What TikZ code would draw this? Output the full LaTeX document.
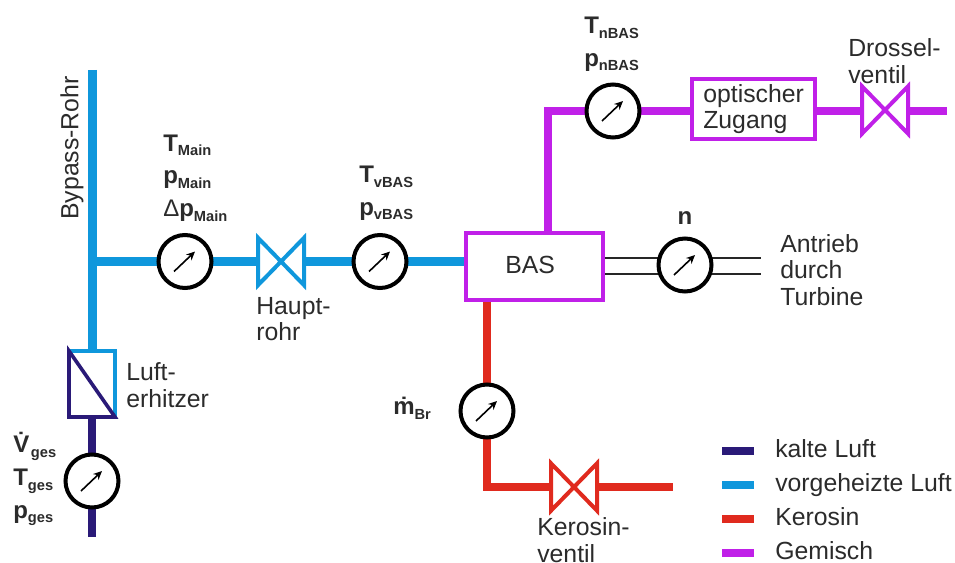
\documentclass[tikz,border=0pt]{standalone}
\usepackage{fontspec}
\setmainfont{Liberation Sans}
\usetikzlibrary{arrows.meta}
\usetikzlibrary{backgrounds}
\definecolor{kalt}{HTML}{2A1A78}
\definecolor{warm}{HTML}{0F97DC}
\definecolor{kero}{HTML}{E02A1E}
\definecolor{gemisch}{HTML}{C020E8}
\definecolor{schrift}{HTML}{2B2B2B}
\newcommand{\grlabel}[2]{\textbf{#1}\raisebox{-3.5pt}{\fontsize{11}{12}\selectfont\textbf{#2}}}
\tikzset{
	gauge/.style={circle,draw=black,line width=3pt,fill=white,minimum size=39.75pt,inner sep=0pt},
	needle/.style={line width=1.2pt,-{Stealth[length=6.5pt,width=6pt]}},
	pipe/.style={line width=6.2pt},
	valvebox/.style={inner sep=0pt,outer sep=0pt,minimum width=34.5pt,minimum height=35.5pt},
	valveline/.style={line width=3pt,line join=miter},
	boxline/.style={line width=3pt,draw=gemisch,fill=white,inner sep=0pt,outer sep=0pt},
	txt/.style={text=schrift,font=\fontsize{18.6}{20}\selectfont,inner sep=0pt,align=left},
	grtxt/.style={text=schrift,font=\fontsize{18}{24.5}\selectfont,inner sep=0pt,align=left}
}
\begin{document}
\begin{tikzpicture}[x=.75pt,y=-.75pt]
	\useasboundingbox (0,0) rectangle (955,563);
	\node[gauge] (gges) at (92,481) {};
	\node[gauge] (gmain) at (185,261.5) {};
	\node[gauge] (gvbas) at (380,261.5) {};
	\node[gauge] (gnbas) at (613,111) {};
	\node[gauge] (gn) at (685,265) {};
	\node[gauge] (gbr) at (487,411) {};
	\node[valvebox] (vhaupt) at (281,261.5) {};
	\node[valvebox] (vdrossel) at (885,110) {};
	\node[valvebox] (vkero) at (574,487) {};
	\node[inner sep=0pt,outer sep=0pt,minimum width=34.5pt,minimum height=49.5pt] (erhitzer) at (92,384) {};
	\node[boxline,minimum width=102.75pt,minimum height=50.25pt] (bas) at (534.5,266.5) {};
	\node[boxline,minimum width=92.25pt,minimum height=45pt] (optik) at (753.5,109) {};
	\coordinate (bypass) at (92.5,70);
	\coordinate (abzweig) at (92.5,261.5);
	\coordinate (gesende) at (92,537);
	\coordinate (knick) at (548,111);
	\coordinate (drosselende) at (947,111);
	\coordinate (kknick) at (487,487);
	\coordinate (keroende) at (673,487);
	\coordinate (welle) at (761,266);
	\begin{scope}[on background layer]
		\draw[pipe,warm] (bypass) -- (abzweig |- erhitzer.north);
		\draw[pipe,warm] (abzweig) -- (gmain.center);
		\draw[pipe,warm] (gmain.center) -- (vhaupt.west);
		\draw[pipe,warm] (vhaupt.east) -- (gvbas.center);
		\draw[pipe,warm] (gvbas.center) -- (bas.center |- gvbas);
		\draw[pipe,kalt] (erhitzer.south) -- (gges.center);
		\draw[pipe,kalt] (gges.center) -- (gesende);
		\draw[pipe,gemisch] (knick |- bas.center) -- (knick) -- (gnbas.center);
		\draw[pipe,gemisch] (gnbas.center) -- (optik.center |- gnbas);
		\draw[pipe,gemisch] (optik.center |- gnbas) -- (vdrossel.west |- gnbas);
		\draw[pipe,gemisch] (vdrossel.east |- gnbas) -- (drosselende);
		\draw[pipe,kero] (gbr |- bas.center) -- (gbr.center);
		\draw[pipe,kero] (gbr.center) -- (kknick) -- (vkero.west);
		\draw[pipe,kero] (vkero.east) -- (keroende);
		\draw[line width=1.5pt,black!85] ([yshift=6pt]bas.center |- welle) -- ([yshift=6pt]welle);
		\draw[line width=1.5pt,black!85] ([yshift=-6pt]bas.center |- welle) -- ([yshift=-6pt]welle);
	\end{scope}
	\foreach \g in {gges,gmain,gvbas,gnbas,gn,gbr}
		\draw[needle] ([shift={(-11,10)}]\g.center) -- ([shift={(10,-10)}]\g.center);
	\foreach \v/\c in {vhaupt/warm,vdrossel/gemisch,vkero/kero}
		\draw[valveline,\c] (\v.north west) -- (\v.south east) -- (\v.north east) -- (\v.south west) -- cycle;
	\draw[line width=2.7pt,warm] (erhitzer.north west) -- (erhitzer.north east) -- (erhitzer.south east);
	\draw[line width=2.7pt,kalt] (erhitzer.north west) -- (erhitzer.south east) -- (erhitzer.south west) -- cycle;
	\node[txt,anchor=center,rotate=90] (tbypass) at (72,148) {Bypass-Rohr};
	\node[txt,anchor=west] (tluft) at (126,385) {Luft-\\erhitzer};
	\node[txt,anchor=west] (thaupt) at (256,319) {Haupt-\\rohr};
	\node[txt,anchor=west] (tbas) at (505,265) {BAS};
	\node[txt,anchor=west] (tantrieb) at (780,270) {Antrieb\\durch\\Turbine};
	\node[txt,anchor=west] (toptik) at (703,109) {optischer\\Zugang};
	\node[txt,anchor=west] (tdrossel) at (848,61) {Drossel-\\ventil};
	\node[txt,anchor=west] (tkero) at (537,540) {Kerosin-\\ventil};
	\node[grtxt,anchor=west] (lmain) at (163,178) {\grlabel{T}{Main}\\\grlabel{p}{Main}\\{\fontseries{m}\selectfont Δ}\grlabel{p}{Main}};
	\node[grtxt,anchor=west] (lvbas) at (359,193) {\grlabel{T}{vBAS}\\\grlabel{p}{vBAS}};
	\node[grtxt,anchor=west] (lnbas) at (584,44) {\grlabel{T}{nBAS}\\\grlabel{p}{nBAS}};
	\node[grtxt,anchor=west] (lges) at (13,479) {\grlabel{\.{V}}{ges}\\\grlabel{T}{ges}\\\grlabel{p}{ges}};
	\node[grtxt,anchor=west] (lbr) at (393,408) {\grlabel{\.{m}}{Br}};
	\node[grtxt,anchor=base] (ln) at (685,224) {\textbf{n}};
	\foreach \n/\c/\t/\y in {1/kalt/kalte Luft/451,2/warm/vorgeheizte Luft/485,3/kero/Kerosin/519,4/gemisch/Gemisch/553}{
		\coordinate (la\n) at (722,\y);
		\coordinate (lb\n) at (754,\y);
		\draw[line width=6pt,\c] (la\n) -- (lb\n);
		\node[txt,anchor=base west] (lt\n) at (775,\y+6) {\t};
	}
\end{tikzpicture}
\end{document}
